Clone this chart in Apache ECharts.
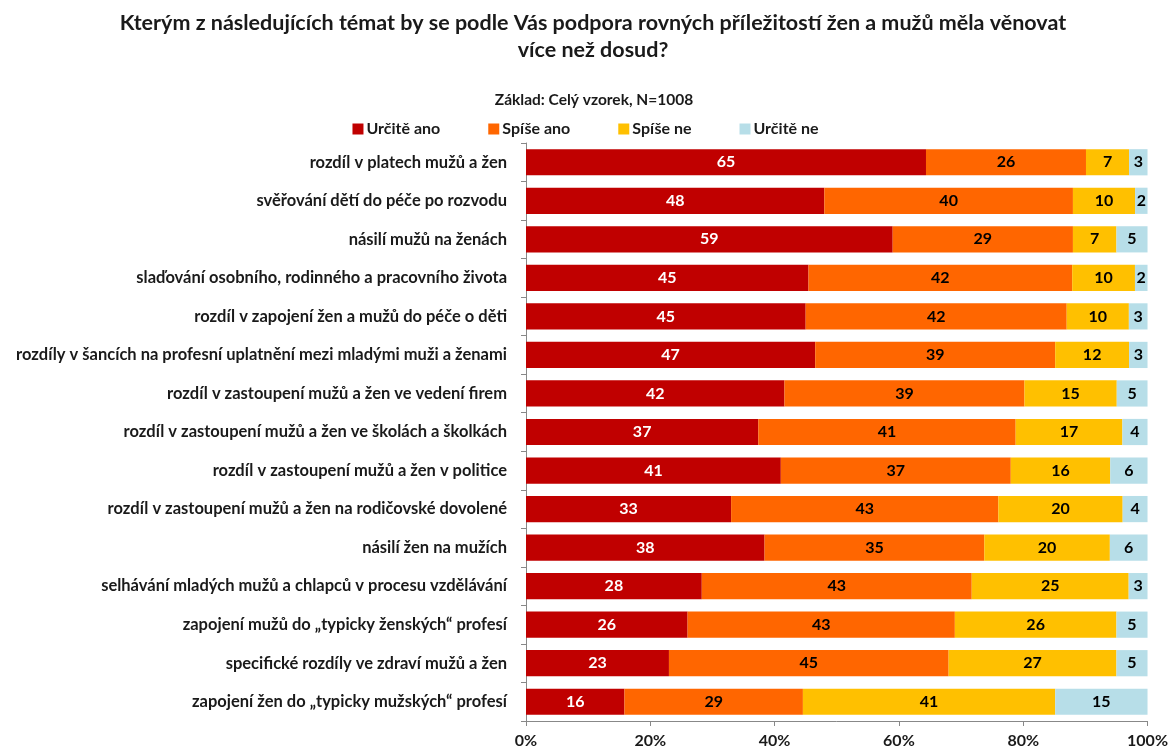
<!DOCTYPE html>
<html><head><meta charset="utf-8">
<script src="https://cdn.jsdelivr.net/npm/echarts@6/dist/echarts.min.js"></script>
<style>html,body{margin:0;padding:0;background:#fff}#c{width:1171px;height:754px}</style>
</head><body><div id="c"></div>
<script>
const categories = [
  "rozdíl v platech mužů a žen",
  "svěřování dětí do péče po rozvodu",
  "násilí mužů na ženách",
  "slaďování osobního, rodinného a pracovního života",
  "rozdíl v zapojení žen a mužů do péče o děti",
  "rozdíly v šancích na profesní uplatnění mezi mladými muži a ženami",
  "rozdíl v zastoupení mužů a žen ve vedení firem",
  "rozdíl v zastoupení mužů a žen ve školách a školkách",
  "rozdíl v zastoupení mužů a žen v politice",
  "rozdíl v zastoupení mužů a žen na rodičovské dovolené",
  "násilí žen na mužích",
  "selhávání mladých mužů a chlapců v procesu vzdělávání",
  "zapojení mužů do „typicky ženských“ profesí",
  "specifické rozdíly ve zdraví mužů a žen",
  "zapojení žen do „typicky mužských“ profesí"
];
const seriesNames = ["Určitě ano", "Spíše ano", "Spíše ne", "Určitě ne"];
const urciteAno = [65,48,59,45,45,47,42,37,41,33,38,28,26,23,16];
const spiseAno  = [26,40,29,42,42,39,39,41,37,43,35,43,43,45,29];
const spiseNe   = [7,10,7,10,10,12,15,17,16,20,20,25,26,27,41];
const urciteNe  = [3,2,5,2,3,3,5,4,6,4,6,3,5,5,15];
const xTicks = ["0%","20%","40%","60%","80%","100%"];

const raw = [urciteAno, spiseAno, spiseNe, urciteNe];
const colors = ["#C00000", "#FF6600", "#FFC000", "#B7DEE8"];
const labelColors = ["#ffffff", "#000000", "#000000", "#000000"];
const totals = categories.map((_, i) => raw.reduce((s, a) => s + a[i], 0));
const FONT = "'Lato', sans-serif";

const chart = echarts.init(document.getElementById('c'));
chart.setOption({
  animation: false,
  textStyle: { fontFamily: FONT },
  title: [
    { text: "Kterým z následujících témat by se podle Vás podpora rovných příležitostí žen a mužů měla věnovat\nvíce než dosud?",
      left: 588, textAlign: 'center', top: 5,
      textStyle: { fontSize: 21.5, fontWeight: 'bold', color: '#1a1a1a', lineHeight: 27, fontFamily: FONT } },
    { text: "Základ: Celý vzorek, N=1008", left: 589, textAlign: 'center', top: 87,
      textStyle: { fontSize: 15.5, fontWeight: 'bold', color: '#1a1a1a', fontFamily: FONT } }
  ],
  legend: {
    top: 116, left: 'center',
    itemWidth: 11, itemHeight: 11, itemGap: 48,
    icon: 'rect',
    textStyle: { fontSize: 16, fontWeight: 'bold', color: '#1a1a1a', fontFamily: FONT, padding: [0,0,0,-2] },
    data: seriesNames
  },
  grid: { left: 526, right: 22, top: 143, bottom: 33, containLabel: false },
  xAxis: {
    type: 'value', min: 0, max: 100, interval: 20,
    axisLine: { show: true, lineStyle: { color: '#888' } },
    axisTick: { show: true, length: 5, lineStyle: { color: '#888' } },
    splitLine: { show: false },
    axisLabel: { formatter: v => xTicks[v / 20], fontSize: 16, fontWeight: 'bold', color: '#1a1a1a', margin: 12, fontFamily: FONT }
  },
  yAxis: {
    type: 'category', inverse: true, data: categories,
    axisLine: { show: true, lineStyle: { color: '#888' } },
    axisTick: { show: true, length: 5, lineStyle: { color: '#888' } },
    axisLabel: { fontSize: 16.5, fontWeight: 'bold', color: '#1a1a1a', margin: 19, fontFamily: FONT }
  },
  series: raw.map((arr, k) => ({
    name: seriesNames[k], type: 'bar', stack: 'total', barWidth: '68%',
    itemStyle: { color: colors[k] },
    label: {
      show: true, position: 'inside', fontSize: 16, fontWeight: 'bold',
      color: labelColors[k], fontFamily: FONT,
      formatter: p => String(arr[p.dataIndex])
    },
    data: arr.map((v, i) => v / totals[i] * 100)
  }))
});
</script></body></html>
